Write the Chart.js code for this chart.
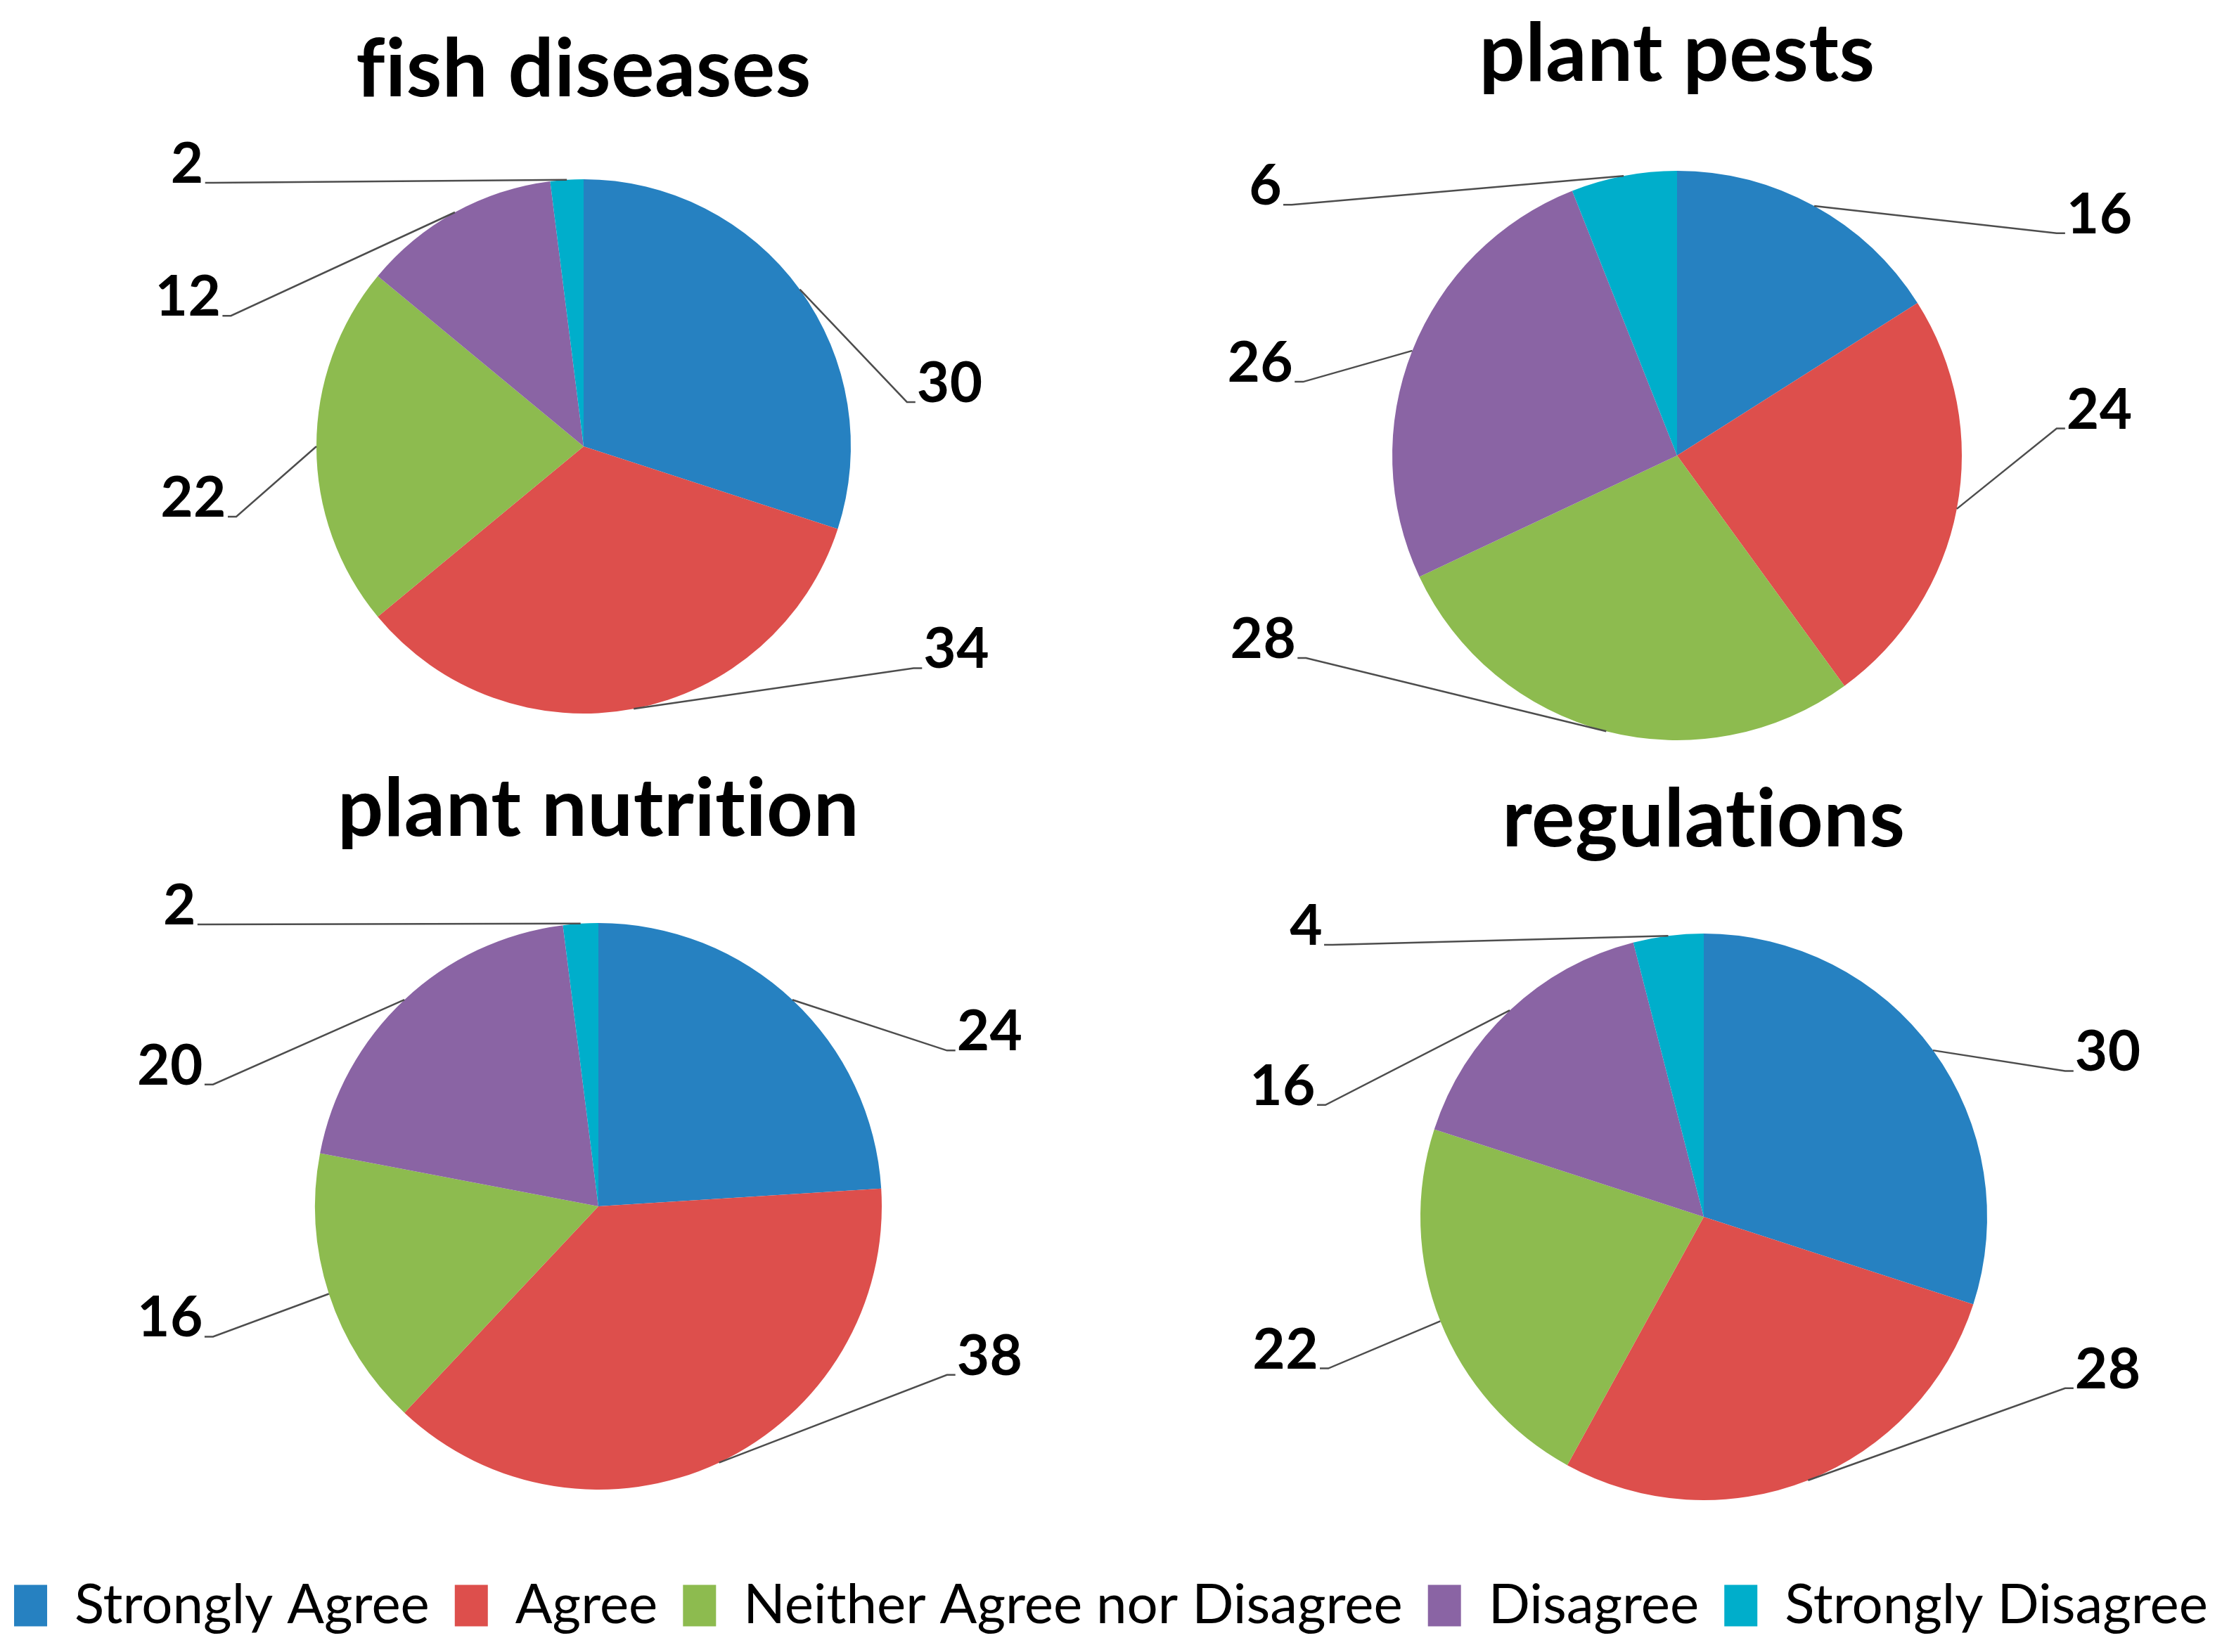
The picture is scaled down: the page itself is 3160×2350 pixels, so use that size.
<!DOCTYPE html>
<html>
<head>
<meta charset="UTF-8">
<title>Survey pies</title>
<script src="https://cdn.jsdelivr.net/npm/chart.js@4.4.1/dist/chart.umd.min.js"></script>
<style>
  body { margin: 0; background: #fff; width: 3160px; height: 2350px; position: relative; overflow: hidden; }
  canvas { position: absolute; }
</style>
</head>
<body>
<canvas id="fish"></canvas>
<canvas id="pests"></canvas>
<canvas id="nutrition"></canvas>
<canvas id="regulations"></canvas>
<canvas id="legend"></canvas>
<script>
// data
const categories = ['Strongly Agree', 'Agree', 'Neither Agree nor Disagree', 'Disagree', 'Strongly Disagree'];
const fishValues = [30, 34, 22, 12, 2];
const pestValues = [16, 24, 28, 26, 6];
const nutritionValues = [24, 38, 16, 20, 2];
const regulationValues = [30, 28, 22, 16, 4];
const titles = ['fish diseases', 'plant pests', 'plant nutrition', 'regulations'];

const colors = ['#2681c1', '#dd4f4c', '#8dbb4f', '#8a64a4', '#00aecb'];
const titleSize = 115;

// where each pie sits on the page, and where its leader lines end (in radius units from the centre)
const panels = [
  { id: 'fish', values: fishValues, left: 0, top: 0, width: 1580, height: 1100, cx: 830, cy: 635, r: 380, titleY: 100,
    spots: [[1.21, -0.166], [1.235, 0.83], [-1.30, 0.263], [-1.32, -0.489], [-1.385, -0.987]] },
  { id: 'pests', values: pestValues, left: 1580, top: 0, width: 1580, height: 1100, cx: 2385, cy: 648, r: 405, titleY: 78,
    spots: [[1.333, -0.781], [1.333, -0.095], [-1.303, 0.711], [-1.313, -0.259], [-1.353, -0.881]] },
  { id: 'nutrition', values: nutritionValues, left: 0, top: 1040, width: 1580, height: 1140, cx: 851, cy: 1716, r: 403, titleY: 1152,
    spots: [[1.23, -0.55], [1.23, 0.595], [-1.36, 0.46], [-1.36, -0.43], [-1.385, -0.995]] },
  { id: 'regulations', values: regulationValues, left: 1580, top: 1040, width: 1580, height: 1140, cx: 2423, cy: 1731, r: 403, titleY: 1167,
    spots: [[1.275, -0.515], [1.275, 0.605], [-1.325, 0.535], [-1.335, -0.395], [-1.31, -0.96]] }
];

// a hair of letter spacing keeps Lato from joining "ti" into a ligature
const noLigatures = {
  id: 'noLigatures',
  beforeDraw(chart) {
    chart.ctx.letterSpacing = '0.5px';
  }
};

const leaderLabels = {
  id: 'leaderLabels',
  afterDatasetsDraw(chart, args, opts) {
    const ctx = chart.ctx;
    const meta = chart.getDatasetMeta(0);
    const values = chart.data.datasets[0].data;
    ctx.save();
    ctx.strokeStyle = '#4d4d4d';
    ctx.lineWidth = 2.5;
    ctx.fillStyle = '#000';
    ctx.font = 'bold 80px Lato';
    ctx.textBaseline = 'alphabetic';
    meta.data.forEach((arc, i) => {
      const p = arc.getProps(['x', 'y', 'startAngle', 'endAngle', 'outerRadius'], true);
      const mid = (p.startAngle + p.endAngle) / 2;
      const sx = p.x + Math.cos(mid) * p.outerRadius;
      const sy = p.y + Math.sin(mid) * p.outerRadius;
      const ex = p.x + opts.spots[i][0] * p.outerRadius;
      const ey = p.y + opts.spots[i][1] * p.outerRadius;
      const dir = opts.spots[i][0] >= 0 ? 1 : -1;
      ctx.beginPath();
      ctx.moveTo(sx, sy);
      ctx.lineTo(ex, ey);
      ctx.lineTo(ex + dir * 12, ey);
      ctx.stroke();
      ctx.textAlign = dir > 0 ? 'left' : 'right';
      ctx.fillText(String(values[i]), ex + dir * 14, ey);
    });
    ctx.restore();
  }
};

panels.forEach((pn, k) => {
  const el = document.getElementById(pn.id);
  el.width = pn.width;
  el.height = pn.height;
  el.style.left = pn.left + 'px';
  el.style.top = pn.top + 'px';
  const lcx = pn.cx - pn.left;
  const lcy = pn.cy - pn.top;
  const padTop = pn.titleY - pn.top - 0.6 * titleSize;
  const padBottom = (lcy - pn.r) - padTop - 1.2 * titleSize;
  new Chart(el, {
    type: 'pie',
    data: {
      labels: categories,
      datasets: [{
        data: pn.values,
        backgroundColor: colors,
        borderWidth: 0,
        hoverOffset: 0
      }]
    },
    options: {
      responsive: false,
      animation: false,
      devicePixelRatio: 1,
      events: [],
      layout: {
        padding: { left: lcx - pn.r, right: pn.width - (lcx + pn.r), top: 0, bottom: pn.height - (lcy + pn.r) }
      },
      plugins: {
        legend: { display: false },
        tooltip: { enabled: false },
        title: {
          display: true,
          text: titles[k],
          color: '#000',
          font: { family: 'Lato', size: titleSize, weight: 'bold', lineHeight: 1.2 },
          padding: { top: padTop, bottom: padBottom }
        },
        leaderLabels: { spots: pn.spots }
      }
    },
    plugins: [noLigatures, leaderLabels]
  });
});

// shared legend along the bottom (canvas a little wider than the page so the row never wraps)
const lg = document.getElementById('legend');
lg.width = 3220;
lg.height = 141;
lg.style.left = '-30px';
lg.style.top = '2209px';
new Chart(lg, {
  type: 'pie',
  data: { labels: categories, datasets: [{ data: categories.map(() => 0), backgroundColor: colors }] },
  options: {
    responsive: false,
    animation: false,
    devicePixelRatio: 1,
    events: [],
    plugins: {
      tooltip: { enabled: false },
      legend: {
        position: 'top',
        maxHeight: 141,
        labels: {
          font: { family: 'Lato', size: 78 },
          color: '#000',
          boxWidth: 47,
          boxHeight: 59,
          padding: 36,
          generateLabels: () => categories.map((c, i) => ({
            text: c, fillStyle: colors[i], strokeStyle: colors[i], lineWidth: 0, hidden: false, index: i
          }))
        }
      }
    }
  }
});
</script>
</body>
</html>
